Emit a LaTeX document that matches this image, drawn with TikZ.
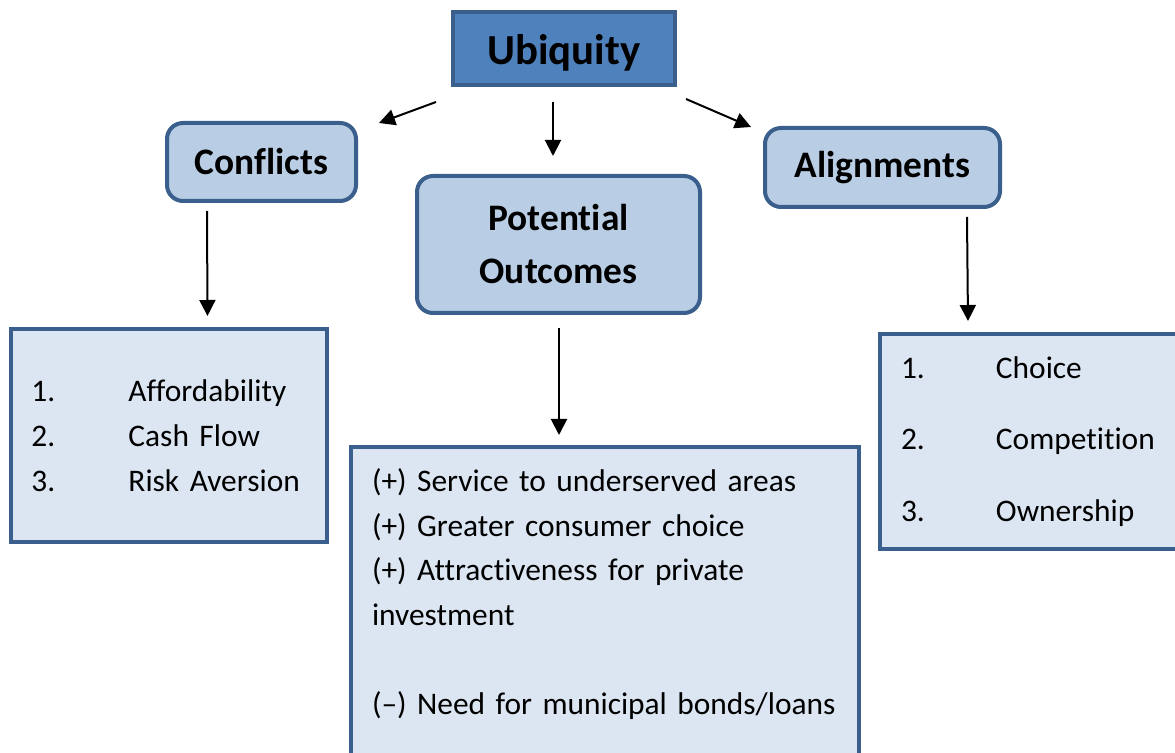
\documentclass[tikz,border=0pt]{standalone}
\usepackage{fontspec}
\setmainfont{Carlito}[Ligatures=NoCommon]
\usetikzlibrary{arrows.meta}
\definecolor{edgeblue}{HTML}{3A5F8D}
\definecolor{topblue}{HTML}{4F81BD}
\definecolor{midblue}{HTML}{B9CDE5}
\definecolor{paleblue}{HTML}{DCE6F2}
\begin{document}
\begin{tikzpicture}[x=0.5pt,y=-0.5pt,
        topbox/.style={draw=edgeblue,line width=2pt,fill=topblue,inner sep=0pt,text height=15.8pt,text depth=0pt,font=\fontsize{21.4}{25}\selectfont\bfseries},
        headbox/.style={draw=edgeblue,line width=2pt,fill=midblue,rounded corners=8pt,inner sep=0pt,align=center,font=\fontsize{18.7}{26.5}\selectfont\bfseries},
        listbox/.style={draw=edgeblue,line width=2pt,fill=paleblue,inner ysep=0pt,inner xsep=10.5pt,align=left},
        arr/.style={-{Triangle[length=8pt,width=8pt]},line width=1pt}]
    \clip (0,0) rectangle (1175,753);
    \node [topbox,minimum width=111pt,minimum height=36.5pt] (ubi) at (564,48.5) {Ubiquity};
    \node [headbox,minimum width=94.5pt,minimum height=39pt] (conf) at (261.5,162) {Conflicts};
    \node [headbox,minimum width=141.5pt,minimum height=68.5pt] (pot) at (558.5,244.5) {Potential\\Outcomes};
    \node [headbox,minimum width=117.5pt,minimum height=39.5pt] (align) at (882.5,167.5) {Alignments};
    \node [listbox,text width=137pt,minimum height=106.5pt,font=\fontsize{15.7}{22.5}\selectfont] (conflist) at (168.5,435.5)
        {\makebox[48.5pt][l]{1.}Affordability\\\makebox[48.5pt][l]{2.}Cash Flow\\\makebox[48.5pt][l]{3.}Risk Aversion};
    \node [listbox,text width=136pt,minimum height=107.5pt,font=\fontsize{15.7}{35.75}\selectfont] (alist) at (1037,441.5)
        {\makebox[47.5pt][l]{1.}Choice\\\makebox[47.5pt][l]{2.}Competition\\\makebox[47.5pt][l]{3.}Ownership};
    \node [listbox,anchor=north west,text width=233pt,inner ysep=11pt,font=\fontsize{15.7}{22.25}\selectfont] (outlist) at (349,445)
        {(+) Service to underserved areas\\(+) Greater consumer choice\\(+) Attractiveness for private\\investment\\[22.25pt](--) Need for municipal bonds/loans\\[22.25pt]\mbox{}\\\mbox{}};
    \draw [arr] ([shift={(-15,15)}]ubi.south west) -- ([shift={(21,2)}]conf.north east);
    \draw [arr] ([shift={(-11,15)}]ubi.south) -- ([shift={(-5.5,-18)}]pot.north);
    \draw [arr] ([shift={(9,12)}]ubi.south east) -- ([shift={(-12,1)}]align.north west);
    \draw [arr] ([shift={(42,8)}]conf.south west) -- ([shift={(199,-11)}]conflist.north west);
    \draw [arr] ([shift={(0.5,13)}]pot.south) -- ([shift={(210,-10)}]outlist.north west);
    \draw [arr] ([shift={(204,8)}]align.south west) -- ([shift={(90,-11)}]alist.north west);
\end{tikzpicture}
\end{document}
